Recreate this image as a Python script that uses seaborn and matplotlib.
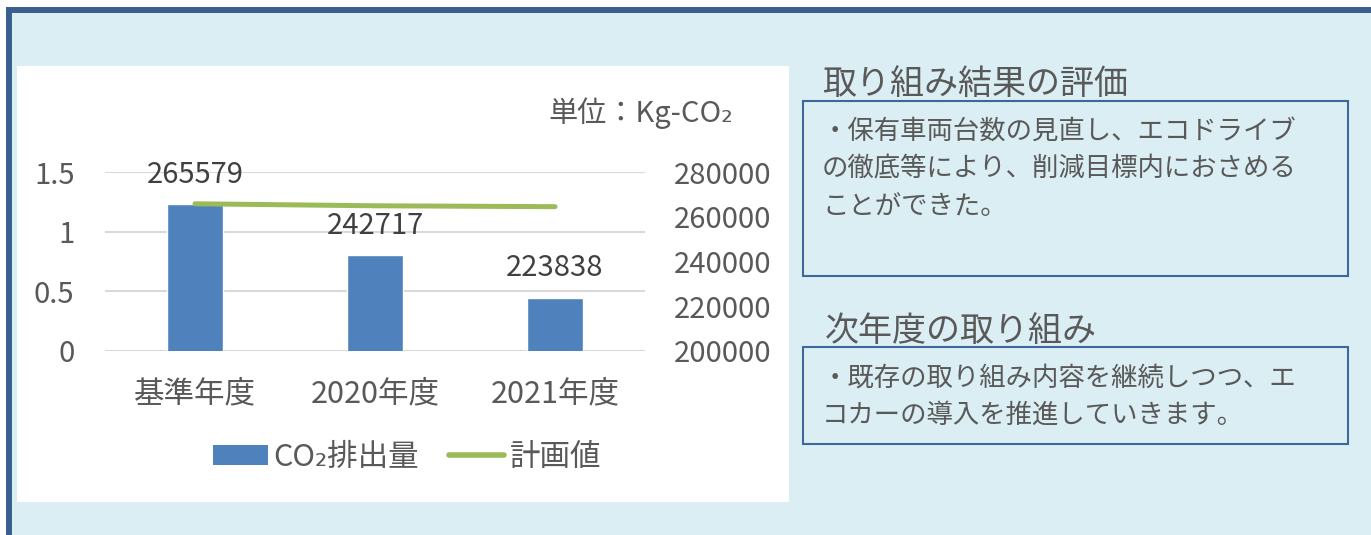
import numpy as np
import pandas as pd
import matplotlib
matplotlib.use('Agg')
import matplotlib.pyplot as plt
import seaborn as sns
from matplotlib.patches import Rectangle, Patch
from matplotlib.lines import Line2D

# ---------------- data ----------------
categories = ['基準年度', '2020年度', '2021年度']
co2_emissions = [265579, 242717, 223838]
plan_values = [265800, 264900, 264500]
left_ticks = [0, 0.5, 1, 1.5]
left_tick_labels = ['0', '0.5', '1', '1.5']
right_ticks = [200000, 220000, 240000, 260000, 280000]
unit_label = '単位：Kg-CO₂'
legend_labels = ['CO₂排出量', '計画値']
eval_title = '取り組み結果の評価'
eval_lines = ['・保有車両台数の見直し、エコドライブ',
              'の徹底等により、削減目標内におさめる',
              'ことができた。']
next_title = '次年度の取り組み'
next_lines = ['・既存の取り組み内容を継続しつつ、エ',
              'コカーの導入を推進していきます。']

# ---------------- style ----------------
sns.set_theme(style='white')
plt.rcParams['font.family'] = ['Noto Sans CJK JP', 'DejaVu Sans']

BAR_C = '#4F81BD'
LINE_C = '#9BBB59'
TXT_C = '#595959'
FRAME_C = '#3A5F8F'
BG_C = '#DAEEF3'

W, H = 1371, 535
fig = plt.figure(figsize=(W / 100, H / 100), dpi=100)
fig.patch.set_facecolor('white')


def fx(p):
    return p / W


def fy(p):
    return 1 - p / H


# outer frame / background
fig.add_artist(Rectangle((fx(9), -0.3), 1.3, fy(10) + 0.3, transform=fig.transFigure,
                         facecolor=BG_C, edgecolor=FRAME_C, linewidth=4.3, zorder=-3))
# white chart area
fig.add_artist(Rectangle((fx(17), fy(502)), fx(789) - fx(17), fy(66) - fy(502),
                         transform=fig.transFigure, facecolor='white',
                         edgecolor='none', zorder=-2))

# ---------------- chart ----------------
df = pd.DataFrame({'cat': categories, 'co2': co2_emissions, 'plan': plan_values})

ax = fig.add_axes([fx(105), fy(351), fx(645) - fx(105), fy(172) - fy(351)])
ax.set_facecolor('white')
ax2 = ax.twinx()

sns.barplot(data=df, x='cat', y='co2', ax=ax2, color=BAR_C, width=0.31,
            saturation=1, zorder=2)
sns.lineplot(x=np.arange(len(categories)), y=df['plan'], ax=ax2, color=LINE_C,
             linewidth=3.6, solid_capstyle='round', zorder=3)

ax2.bar_label(ax2.containers[0], labels=[str(v) for v in co2_emissions],
              padding=10.5, fontsize=21, color='#404040')

ax.set_ylim(0, 1.5)
ax.set_yticks(left_ticks)
ax.set_yticklabels(left_tick_labels)
ax2.set_ylim(200000, 280000)
ax2.set_yticks(right_ticks)
ax2.set_yticklabels([str(v) for v in right_ticks])
ax.set_xlim(-0.5, len(categories) - 0.5)
ax.set_xticks(np.arange(len(categories)))
ax.set_xticklabels(categories)

ax.yaxis.grid(True, color='#D9D9D9', linewidth=1.5)
ax.xaxis.grid(False)
ax.set_axisbelow(True)
for a in (ax, ax2):
    for s in a.spines.values():
        s.set_visible(False)
    a.set_xlabel('')
    a.set_ylabel('')

ax.tick_params(axis='y', labelsize=21, labelcolor=TXT_C, length=0, pad=22)
ax2.tick_params(axis='y', labelsize=21, labelcolor=TXT_C, length=0, pad=21)
ax.tick_params(axis='x', labelsize=22, labelcolor=TXT_C, length=0, pad=20)

# unit label
fig.text(fx(733), fy(113), unit_label, ha='right', va='center', fontsize=21, color=TXT_C)

# legend
handles = [Patch(facecolor=BAR_C, edgecolor='none'),
           Line2D([], [], color=LINE_C, linewidth=4.0, solid_capstyle='round')]
fig.legend(handles, legend_labels, loc='center', bbox_to_anchor=(fx(407), fy(457)),
           ncol=2, frameon=False, fontsize=22, labelcolor=TXT_C,
           handlelength=1.8, handleheight=0.62, handletextpad=0.18,
           columnspacing=1.0)

# ---------------- right panels ----------------
BOX_C = '#41679A'
fig.add_artist(Rectangle((fx(803), fy(276)), fx(1348) - fx(803), fy(101) - fy(276),
                         transform=fig.transFigure, fill=False, edgecolor=BOX_C,
                         linewidth=1.5, zorder=1))
fig.add_artist(Rectangle((fx(803), fy(444)), fx(1348) - fx(803), fy(347) - fy(444),
                         transform=fig.transFigure, fill=False, edgecolor=BOX_C,
                         linewidth=1.5, zorder=1))

fig.text(fx(822), fy(85), eval_title, ha='left', va='center', fontsize=24.5, color=TXT_C)
for i, line in enumerate(eval_lines):
    fig.text(fx(822), fy(131 + 37.5 * i), line, ha='left', va='center',
             fontsize=19, color=TXT_C)

fig.text(fx(825), fy(331), next_title, ha='left', va='center', fontsize=24.5, color=TXT_C)
for i, line in enumerate(next_lines):
    fig.text(fx(822), fy(378 + 37 * i), line, ha='left', va='center',
             fontsize=19, color=TXT_C)

fig.savefig('out.png', dpi=100, facecolor=fig.get_facecolor())
